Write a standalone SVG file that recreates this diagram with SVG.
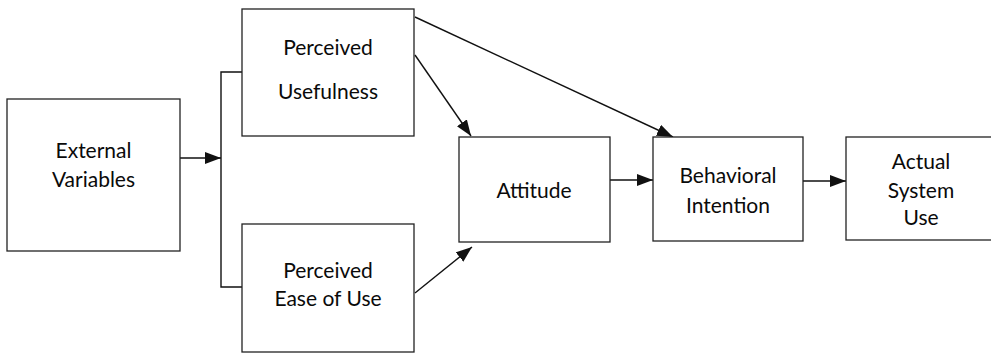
<svg xmlns="http://www.w3.org/2000/svg" width="991" height="353" viewBox="0 0 991 353">
  <style>
    .box { fill: #fff; stroke: #222; stroke-width: 1.3; }
    .lbl { font-family: Lato, "Open Sans", sans-serif; font-size: 21px; fill: #0a0a0a; text-anchor: middle; }
    .edge { fill: none; stroke: #111; stroke-width: 1.4; }
    .arrow { marker-end: url(#head); }
  </style>
  <defs>
    <marker id="head" markerUnits="userSpaceOnUse" markerWidth="17" markerHeight="13" refX="16" refY="6" orient="auto">
      <path d="M0,0 L16,6 L0,12 z" fill="#111"/>
    </marker>
  </defs>
  <rect width="991" height="353" fill="#fff"/>

  <g id="connectors">
    <line class="edge arrow" x1="180" y1="158" x2="221" y2="158"/>
    <path class="edge" d="M242,72 H221 V287 H242"/>
    <line class="edge arrow" x1="415" y1="55" x2="471" y2="136"/>
    <line class="edge arrow" x1="415" y1="17" x2="673" y2="137"/>
    <line class="edge arrow" x1="415" y1="293" x2="472" y2="247"/>
    <line class="edge arrow" x1="610" y1="180" x2="653" y2="180"/>
    <line class="edge arrow" x1="803" y1="181" x2="846" y2="181"/>
  </g>

  <g id="external-variables">
    <rect class="box" x="7" y="99" width="173" height="152"/>
    <text class="lbl" x="93.5" y="158">External</text>
    <text class="lbl" x="93.5" y="187">Variables</text>
  </g>

  <g id="perceived-usefulness">
    <rect class="box" x="242" y="9" width="172" height="127"/>
    <text class="lbl" x="328" y="55">Perceived</text>
    <text class="lbl" x="328" y="99">Usefulness</text>
  </g>

  <g id="perceived-ease-of-use">
    <rect class="box" x="242" y="224" width="172" height="128"/>
    <text class="lbl" x="328" y="278">Perceived</text>
    <text class="lbl" x="328" y="306">Ease of Use</text>
  </g>

  <g id="attitude">
    <rect class="box" x="459" y="137" width="151" height="105"/>
    <text class="lbl" x="534" y="198">Attitude</text>
  </g>

  <g id="behavioral-intention">
    <rect class="box" x="653" y="137" width="150" height="104"/>
    <text class="lbl" x="728" y="183">Behavioral</text>
    <text class="lbl" x="728" y="213">Intention</text>
  </g>

  <g id="actual-system-use">
    <rect class="box" x="846" y="137" width="150" height="103"/>
    <text class="lbl" x="921" y="169">Actual</text>
    <text class="lbl" x="921" y="198">System</text>
    <text class="lbl" x="921" y="225">Use</text>
  </g>
</svg>
